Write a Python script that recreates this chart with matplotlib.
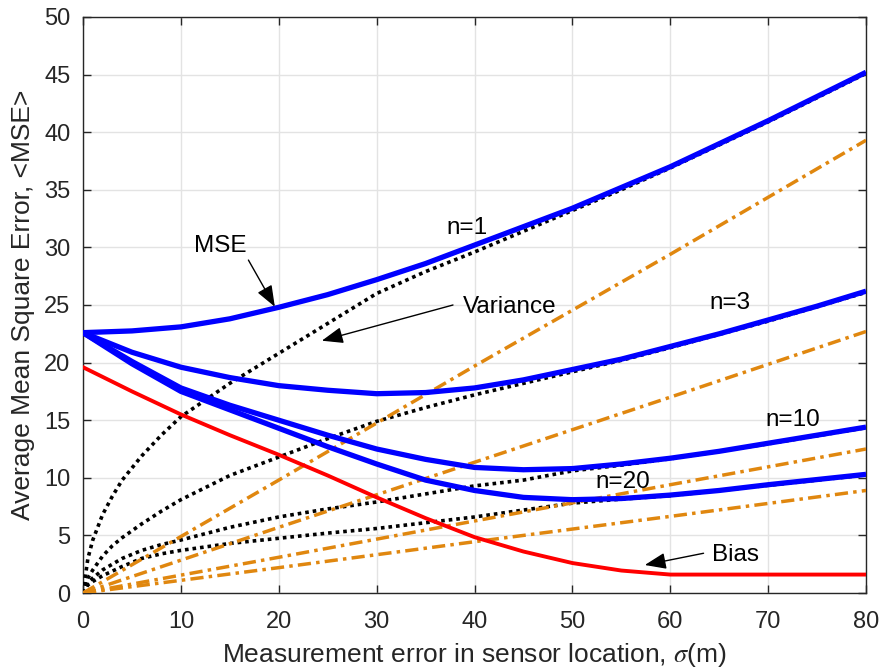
import numpy as np
import matplotlib
matplotlib.use("Agg")
import matplotlib.pyplot as plt

plt.rcParams['font.family'] = ['Liberation Sans', 'DejaVu Sans']
plt.rcParams['mathtext.fontset'] = 'stix'

# ---- data ----
x_curve = [0, 5, 10, 15, 20, 25, 30, 35, 40, 45, 50, 55, 60, 65, 70, 75, 80]
mse_n1 = [22.6, 22.75, 23.1, 23.8, 24.8, 25.9, 27.2, 28.6, 30.2, 31.8, 33.4, 35.2, 37.0, 39.0, 41.0, 43.1, 45.2]
mse_n3 = [22.6, 20.9, 19.6, 18.7, 18.0, 17.6, 17.3, 17.4, 17.8, 18.5, 19.4, 20.3, 21.4, 22.5, 23.7, 24.9, 26.2]
mse_n10 = [22.6, 20.1, 17.8, 16.3, 15.0, 13.7, 12.5, 11.6, 10.9, 10.7, 10.8, 11.2, 11.7, 12.3, 13.0, 13.7, 14.4]
mse_n20 = [22.6, 19.9, 17.5, 15.9, 14.3, 12.7, 11.2, 9.8, 8.9, 8.3, 8.1, 8.2, 8.5, 8.9, 9.4, 9.85, 10.3]
bias = [19.6, 17.5, 15.5, 13.7, 12.0, 10.2, 8.3, 6.5, 4.85, 3.6, 2.6, 1.95, 1.6, 1.6, 1.6, 1.6, 1.6]

x_var = [0, 0.5, 1, 2, 3, 4, 6, 8, 10, 15, 20, 25, 30, 35, 40, 45, 50, 55, 60, 70, 80]
var_n1 = [0, 3.0, 4.6, 6.8, 8.4, 9.8, 11.9, 13.7, 15.3, 18.2, 20.8, 23.4, 26.0, 27.9, 29.6, 31.4, 33.2, 35.0, 36.9, 40.9, 45.1]
var_n3 = [0, 1.3, 2.0, 3.2, 4.1, 4.8, 6.0, 7.1, 8.1, 10.2, 11.8, 13.4, 14.9, 16.1, 17.2, 18.2, 19.2, 20.2, 21.3, 23.6, 26.1]
var_n10 = [0, 0.9, 1.3, 2.0, 2.5, 3.0, 3.7, 4.2, 4.6, 5.7, 6.6, 7.3, 7.9, 8.6, 9.3, 9.8, 10.6, 11.1, 11.65, 12.95, 14.35]
var_n20 = [0, 0.7, 1.0, 1.5, 1.9, 2.3, 3.0, 3.4, 3.7, 4.3, 4.75, 5.2, 5.6, 6.1, 6.6, 7.2, 7.8, 8.15, 8.45, 9.35, 10.25]

x_lin = [0, 20, 40, 60, 80]
lin_n1 = [0, 9.8, 19.7, 29.4, 39.3]
lin_n3 = [0, 5.7, 11.35, 17.0, 22.7]
lin_n10 = [0, 3.1, 6.25, 9.4, 12.5]
lin_n20 = [0, 2.2, 4.45, 6.65, 8.9]

x_ticks = [0, 10, 20, 30, 40, 50, 60, 70, 80]
y_ticks = [0, 5, 10, 15, 20, 25, 30, 35, 40, 45, 50]

# ---- figure ----
fig = plt.figure(figsize=(8.82, 6.69), dpi=100)
ax = fig.add_axes([0.0941, 0.1136, 0.8878, 0.861])

blue = '#0000FF'
orange = '#E0870F'
for yv in [var_n1, var_n3, var_n10, var_n20]:
    ax.plot(x_var, yv, color='black', lw=2.6, linestyle=(0, (1, 1.1)),
            dash_capstyle='butt', zorder=3)
for yv in [lin_n1, lin_n3, lin_n10, lin_n20]:
    ax.plot(x_lin, yv, color=orange, lw=2.5, linestyle=(0, (3.8, 1.5, 1.0, 1.5)),
            dash_capstyle='butt', zorder=3)
for yv in [mse_n1, mse_n3, mse_n10, mse_n20]:
    ax.plot(x_curve, yv, color=blue, lw=3.8, solid_capstyle='butt',
            solid_joinstyle='round', zorder=4)
ax.plot(x_curve, bias, color='#FF0000', lw=2.8, solid_joinstyle='round', zorder=5)

ax.set_xlim(0, 80)
ax.set_ylim(0, 50)
ax.set_xticks(x_ticks)
ax.set_yticks(y_ticks)
ax.grid(True, color='#E3E3E3', lw=1.0, zorder=0)
ax.set_axisbelow(True)
ax.tick_params(direction='in', length=6, width=1, top=True, right=True,
               labelsize=17, colors='#262626')
ax.tick_params(axis='x', pad=13)
ax.tick_params(axis='y', pad=9)
for s in ax.spines.values():
    s.set_color('#262626')
    s.set_linewidth(1.0)

ax.set_xlabel(r'Measurement error in sensor location, $\sigma$(m)', fontsize=19,
              color='#262626', labelpad=6)
ax.set_ylabel('Average Mean Square Error, <MSE>', fontsize=19, color='#262626',
              labelpad=7)

tfs = 17.5
ax.text(39.2, 31.7, 'n=1', fontsize=tfs, ha='center', va='center')
ax.text(66.1, 25.2, 'n=3', fontsize=tfs, ha='center', va='center')
ax.text(72.5, 15.0, 'n=10', fontsize=tfs, ha='center', va='center')
ax.text(55.1, 9.6, 'n=20', fontsize=tfs, ha='center', va='center')

ap = dict(arrowstyle='-|>,head_length=1.3,head_width=0.5', color='black',
          lw=1.0, shrinkA=0, shrinkB=0)
ax.annotate('', xy=(19.6, 24.85), xytext=(16.9, 28.9), arrowprops=ap, zorder=6)
ax.text(14.0, 30.1, 'MSE', fontsize=tfs, ha='center', va='center')
ax.annotate('', xy=(24.4, 21.9), xytext=(37.8, 25.0), arrowprops=ap, zorder=6)
ax.text(38.8, 24.8, 'Variance', fontsize=tfs, ha='left', va='center')
ax.annotate('', xy=(57.4, 2.43), xytext=(63.4, 3.45), arrowprops=ap, zorder=6)
ax.text(64.3, 3.3, 'Bias', fontsize=tfs, ha='left', va='center')

fig.savefig('out.png', dpi=100)
